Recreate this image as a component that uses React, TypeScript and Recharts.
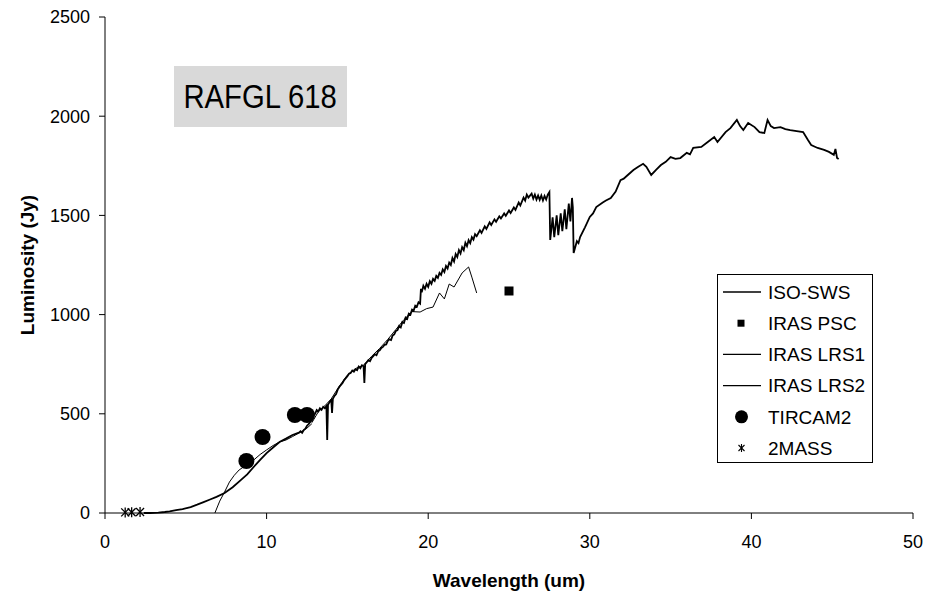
import React from 'react';
import { ComposedChart, Line, Scatter, XAxis, YAxis, Legend } from 'recharts';

// ---------- data ----------
// ISO-SWS spectrum: [wavelength (um), flux (Jy)]
const isoSws: [number, number][] = [
  [2.4, 0], [2.8, 0], [3.3, 2], [3.7, 5], [4.0, 8], [4.4, 15], [4.8, 20], [5.3, 30], [5.7, 42],
  [6.1, 55], [6.5, 68], [6.9, 81], [7.4, 101], [7.9, 130], [8.4, 166], [8.8, 195], [9.2, 232],
  [9.6, 268], [10.0, 302], [10.4, 330], [10.8, 358], [11.2, 375], [11.6, 393],
  [12.0, 405], [12.1, 412], [12.2, 404], [12.3, 418], [12.4, 425], [12.5, 440], [12.6, 448],
  [12.7, 459], [12.8, 470], [12.9, 490], [13.0, 500], [13.1, 519], [13.2, 512], [13.3, 528],
  [13.4, 520], [13.5, 535], [13.6, 528], [13.7, 539], [13.75, 368], [13.8, 545], [13.9, 560],
  [14.0, 570], [14.05, 504], [14.1, 575], [14.2, 590], [14.3, 600], [14.4, 622], [14.5, 635],
  [14.6, 645], [14.7, 655], [14.8, 670], [14.9, 680], [15.0, 690], [15.1, 702], [15.2, 706],
  [15.3, 718], [15.4, 712], [15.5, 725], [15.6, 720], [15.7, 738], [15.8, 730], [15.9, 745],
  [16.0, 740], [16.05, 655], [16.1, 750], [16.2, 760], [16.3, 771], [16.4, 765], [16.5, 782],
  [16.6, 790], [16.7, 800], [16.8, 795], [16.9, 815], [17.0, 820], [17.1, 832], [17.2, 837],
  [17.3, 848], [17.4, 850], [17.5, 868], [17.6, 875], [17.7, 872], [17.8, 895], [17.9, 900],
  [18.0, 918], [18.1, 922], [18.2, 942], [18.3, 935], [18.4, 962], [18.5, 958], [18.6, 985],
  [18.7, 978], [18.8, 1005], [18.9, 1000], [19.0, 1025], [19.1, 1020], [19.2, 1045],
  [19.3, 1040], [19.4, 1062], [19.5, 1055], [19.55, 1130], [19.6, 1112], [19.7, 1145],
  [19.8, 1130], [19.9, 1155], [20.0, 1140], [20.1, 1168], [20.2, 1155], [20.3, 1180],
  [20.4, 1170], [20.5, 1195], [20.6, 1185], [20.7, 1210], [20.8, 1200], [20.9, 1228],
  [21.0, 1215], [21.1, 1245], [21.2, 1232], [21.3, 1262], [21.4, 1250], [21.5, 1285],
  [21.6, 1268], [21.7, 1305], [21.8, 1290], [21.9, 1325], [22.0, 1308], [22.1, 1340],
  [22.2, 1325], [22.3, 1362], [22.4, 1345], [22.5, 1375], [22.6, 1360], [22.7, 1390],
  [22.8, 1378], [22.9, 1405], [23.0, 1395], [23.2, 1425], [23.3, 1412], [23.5, 1445],
  [23.6, 1432], [23.8, 1465], [23.9, 1452], [24.1, 1480], [24.2, 1468], [24.4, 1495],
  [24.5, 1485], [24.7, 1510], [24.8, 1498], [25.0, 1525], [25.1, 1512], [25.3, 1540],
  [25.4, 1528], [25.6, 1565], [25.7, 1550], [25.9, 1590], [26.0, 1575], [26.1, 1605],
  [26.2, 1590], [26.4, 1610], [26.5, 1585], [26.6, 1605], [26.7, 1580], [26.8, 1600],
  [26.9, 1578], [27.0, 1600], [27.1, 1575], [27.2, 1598], [27.3, 1580], [27.4, 1605],
  [27.5, 1618], [27.55, 1376], [27.7, 1490], [27.8, 1390], [27.95, 1500], [28.05, 1400],
  [28.2, 1510], [28.3, 1420], [28.45, 1530], [28.55, 1430], [28.7, 1560], [28.8, 1470],
  [28.9, 1588], [28.95, 1540], [29.0, 1310], [29.2, 1370], [29.3, 1360], [29.4, 1391],
  [29.7, 1440], [30.0, 1492], [30.2, 1510], [30.4, 1542], [30.8, 1565], [31.0, 1575],
  [31.3, 1588], [31.6, 1620], [31.9, 1678], [32.1, 1685], [32.3, 1700], [32.7, 1729],
  [33.0, 1745], [33.3, 1760], [33.5, 1745], [33.8, 1704], [34.1, 1730], [34.4, 1754],
  [34.7, 1770], [35.0, 1794], [35.3, 1785], [35.6, 1789], [36.0, 1815], [36.2, 1808],
  [36.4, 1840], [36.9, 1845], [37.3, 1870], [37.7, 1895], [37.9, 1870], [38.4, 1920],
  [38.7, 1940], [39.1, 1981], [39.3, 1950], [39.5, 1930], [39.8, 1966], [40.2, 1945],
  [40.5, 1920], [40.8, 1915], [41.0, 1981], [41.2, 1950], [41.4, 1940], [41.8, 1945],
  [42.1, 1935], [42.4, 1930], [42.8, 1925], [43.2, 1920], [43.5, 1880], [43.7, 1855],
  [44.1, 1840], [44.5, 1830], [44.8, 1820], [45.1, 1805], [45.2, 1835], [45.3, 1790],
  [45.4, 1784],
];

const irasLrs1: [number, number][] = [
  [6.8, 0], [7.0, 40], [7.1, 60], [7.4, 106], [7.7, 156], [8.0, 190], [8.3, 217], [8.8, 245],
  [9.2, 267], [9.6, 295], [10.0, 318], [10.4, 340], [10.8, 358], [11.2, 368], [11.6, 385],
  [12.0, 403], [12.5, 428], [12.8, 450],
];

const irasLrs2: [number, number][] = [
  [12.8, 455], [13.2, 510], [13.6, 540], [14.0, 575], [14.5, 640], [15.0, 695], [15.5, 728],
  [16.0, 745], [16.5, 790], [17.0, 830], [17.5, 875], [18.0, 925], [18.5, 975], [19.0, 1015],
  [19.5, 1013], [19.9, 1030], [20.3, 1038], [20.7, 1109], [21.0, 1079], [21.3, 1154],
  [21.6, 1139], [22.1, 1210], [22.5, 1240], [22.7, 1189], [23.0, 1109],
];

const irasPsc: [number, number][] = [[25, 1119]];
const tircam2: [number, number][] = [[8.75, 262], [9.75, 383], [11.75, 494], [12.5, 494]];
const twoMass: [number, number][] = [[1.25, 3], [1.65, 4], [2.17, 5]];

const xTicks = [0, 10, 20, 30, 40, 50];
const yTicks = [0, 500, 1000, 1500, 2000, 2500];
const seriesNames = ['ISO-SWS', 'IRAS PSC', 'IRAS LRS1', 'IRAS LRS2', 'TIRCAM2', '2MASS'];
const titleText = 'RAFGL 618';
const xTitle = 'Wavelength (um)';
const yTitle = 'Luminosity (Jy)';

const toPts = (a: [number, number][]) => a.map(([x, y]) => ({ x, y }));

const FONT = '"Liberation Sans", Arial, sans-serif';

const SquareShape = (p: any) => <rect x={p.cx - 4.5} y={p.cy - 4.5} width={9} height={9} fill="#000" />;
const CircleShape = (p: any) => <circle cx={p.cx} cy={p.cy} r={8} fill="#000" />;
const StarShape = (p: any) => (
  <g stroke="#000" strokeWidth={1.3}>
    <line x1={p.cx - 4} y1={p.cy - 4} x2={p.cx + 4} y2={p.cy + 4} />
    <line x1={p.cx - 4} y1={p.cy + 4} x2={p.cx + 4} y2={p.cy - 4} />
    <line x1={p.cx} y1={p.cy - 5} x2={p.cx} y2={p.cy + 5} />
  </g>
);

const LegendBox = () => {
  const kinds = ['line', 'square', 'line', 'line', 'circle', 'star'];
  return (
    <svg width={156} height={189} style={{ display: 'block' }}>
      <rect x={0.5} y={0.5} width={155} height={188} fill="#fff" stroke="#000" strokeWidth={1} />
      {seriesNames.map((n, i) => {
        const cy = 18 + i * 31.2;
        const k = kinds[i];
        return (
          <g key={n}>
            {k === 'line' && <line x1={6} x2={44} y1={cy} y2={cy} stroke="#000" strokeWidth={i === 0 ? 1.5 : 1.1} />}
            {k === 'square' && <rect x={20.5} y={cy - 3.5} width={7} height={7} fill="#000" />}
            {k === 'circle' && <circle cx={24.5} cy={cy} r={6.5} fill="#000" />}
            {k === 'star' && (
              <g stroke="#000" strokeWidth={1.1}>
                <line x1={21.5} y1={cy - 3} x2={27.5} y2={cy + 3} />
                <line x1={21.5} y1={cy + 3} x2={27.5} y2={cy - 3} />
                <line x1={24.5} y1={cy - 4} x2={24.5} y2={cy + 4} />
              </g>
            )}
            <text x={51} y={cy} dy="0.36em" fontSize={19} fontFamily={FONT} fill="#000">{n}</text>
          </g>
        );
      })}
    </svg>
  );
};

export default function App() {
  return (
    <div style={{ position: 'absolute', left: 0, top: 0, width: 929, height: 592, background: '#fff' }}>
      <ComposedChart width={929} height={592} margin={{ top: 17, right: 16, bottom: 0, left: 0 }}>
        <XAxis
          type="number"
          dataKey="x"
          domain={[0, 50]}
          ticks={xTicks}
          allowDataOverflow
          height={79}
          tickSize={6}
          tickMargin={16}
          stroke="#000"
          tick={{ fill: '#000', fontSize: 18, fontFamily: FONT }}
          label={{
            content: (p: any) => {
              const vb = p.viewBox || { x: 105, y: 513, width: 808, height: 79 };
              return (
                <text x={vb.x + vb.width / 2} y={580} textAnchor="middle" dominantBaseline="central"
                  fontSize={19} fontWeight="bold" fontFamily={FONT} fill="#000">{xTitle}</text>
              );
            },
          }}
        />
        <YAxis
          type="number"
          dataKey="y"
          domain={[0, 2500]}
          ticks={yTicks}
          width={105}
          tickSize={6}
          tickMargin={9}
          stroke="#000"
          tick={{ fill: '#000', fontSize: 18, fontFamily: FONT }}
          label={{
            content: (p: any) => {
              const vb = p.viewBox || { x: 0, y: 17, width: 105, height: 496 };
              const cy = vb.y + vb.height / 2;
              return (
                <text x={27} y={cy} transform={`rotate(-90 27 ${cy})`} textAnchor="middle" dominantBaseline="central"
                  fontSize={19} fontWeight="bold" fontFamily={FONT} fill="#000">{yTitle}</text>
              );
            },
          }}
        />
        <Legend
          layout="vertical"
          align="center"
          verticalAlign="middle"
          content={() => <LegendBox />}
          wrapperStyle={{ position: 'absolute', left: 717, top: 274, width: 156, height: 189 }}
        />
        <Line data={toPts(irasLrs1)} dataKey="y" name="IRAS LRS1" type="linear" stroke="#000" strokeWidth={1} dot={false} isAnimationActive={false} />
        <Line data={toPts(irasLrs2)} dataKey="y" name="IRAS LRS2" type="linear" stroke="#000" strokeWidth={1} dot={false} isAnimationActive={false} />
        <Line data={toPts(isoSws)} dataKey="y" name="ISO-SWS" type="linear" stroke="#000" strokeWidth={1.8} dot={false} isAnimationActive={false} />
        <Scatter data={toPts(irasPsc)} dataKey="y" name="IRAS PSC" shape={SquareShape} isAnimationActive={false} />
        <Scatter data={toPts(tircam2)} dataKey="y" name="TIRCAM2" shape={CircleShape} isAnimationActive={false} />
        <Scatter data={toPts(twoMass)} dataKey="y" name="2MASS" shape={StarShape} isAnimationActive={false} />
      </ComposedChart>
      <div
        style={{
          position: 'absolute', left: 174, top: 66, width: 173, height: 61, background: '#d9d9d9',
          display: 'flex', alignItems: 'center', justifyContent: 'center', whiteSpace: 'nowrap',
          fontFamily: FONT, color: '#000',
        }}
      >
        <span style={{ display: 'inline-block', fontSize: 34, transform: 'scaleX(0.86)' }}>{titleText}</span>
      </div>
    </div>
  );
}
